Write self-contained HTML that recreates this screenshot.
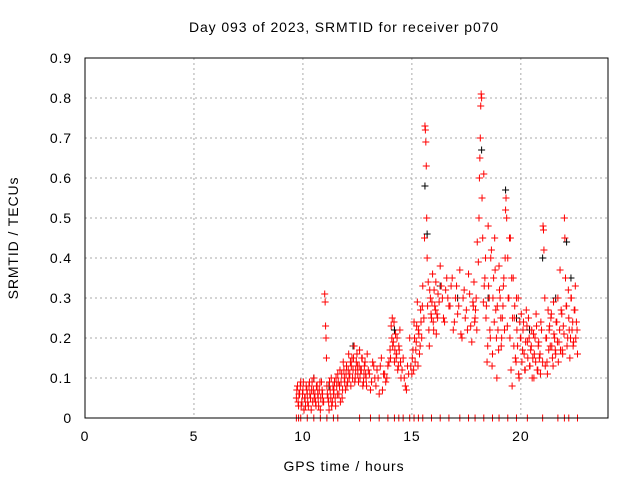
<!DOCTYPE html>
<html><head><meta charset="utf-8"><style>
body{margin:0;background:#fff}
svg text{font-family:"Liberation Sans",sans-serif;font-size:14px;letter-spacing:0.9px;fill:#000}
</style></head><body>
<svg id="chart" width="640" height="480">
<text x="344" y="32" text-anchor="middle">Day 093 of 2023, SRMTID for receiver p070</text>
<text x="344" y="471" text-anchor="middle">GPS time / hours</text>
<text transform="translate(18,238) rotate(-90)" text-anchor="middle">SRMTID / TECUs</text>
<g id="grid"></g><g id="axes"></g><g id="pts"></g>
<rect x="85" y="58" width="523" height="360" fill="none" stroke="#000"/>
</svg>
<script>
const xTicks=[0,5,10,15,20];
const yTicks=[0,0.1,0.2,0.3,0.4,0.5,0.6,0.7,0.8,0.9];
const redT=[9.7,9.75,9.8,9.85,9.9,9.95,10,10.05,10.1,10.15,10.2,10.25,10.3,10.35,10.4,10.45,10.5,10.55,10.6,10.65,10.7,10.75,10.8,10.85,10.9,10.95,11,11.02,11.04,11.06,11.08,11.1,11.15,11.2,11.25,11.3,11.35,11.4,11.45,11.5,11.55,11.6,11.65,11.7,11.75,11.8,11.85,11.9,11.95,12,12.05,12.1,12.15,12.2,12.25,12.3,12.35,12.4,12.45,12.5,12.55,12.6,12.65,12.7,12.75,12.8,12.85,12.9,12.95,13,13.1,13.2,13.3,13.4,13.5,13.6,13.7,13.8,13.9,14,14.05,14.1,14.15,14.2,14.25,14.3,14.35,14.4,14.45,14.5,14.6,14.7,14.8,14.9,15,15.05,15.1,15.15,15.2,15.25,15.3,15.35,15.4,15.45,15.5,15.55,15.58,15.6,15.62,15.64,15.66,15.68,15.7,15.75,15.8,15.85,15.9,15.95,16,16.05,16.1,16.15,16.2,16.3,16.4,16.5,16.6,16.7,16.8,16.9,17,17.1,17.2,17.3,17.4,17.5,17.6,17.7,17.8,17.85,17.9,17.95,18,18.05,18.08,18.1,18.12,18.14,18.16,18.18,18.2,18.22,18.25,18.3,18.35,18.4,18.45,18.5,18.55,18.6,18.65,18.7,18.75,18.8,18.85,18.9,18.95,19,19.05,19.1,19.15,19.2,19.25,19.28,19.3,19.32,19.35,19.4,19.45,19.5,19.55,19.6,19.65,19.7,19.75,19.8,19.85,19.9,19.95,20,20.05,20.1,20.15,20.2,20.25,20.3,20.35,20.4,20.45,20.5,20.55,20.6,20.65,20.7,20.75,20.8,20.85,20.9,20.95,21,21.02,21.04,21.06,21.1,21.15,21.2,21.25,21.3,21.35,21.4,21.45,21.5,21.55,21.6,21.65,21.7,21.75,21.8,21.85,21.9,21.95,22,22.02,22.05,22.1,22.15,22.2,22.25,22.3,22.35,22.4,22.45,22.5,22.55,22.6];
const redV=[0.05,0.08,0.03,0.06,0.09,0.04,0.07,0.02,0.05,0.08,0.06,0.03,0.09,0.05,0.07,0.04,0.1,0.06,0.03,0.08,0.05,0.07,0.02,0.09,0.06,0.04,0.31,0.29,0.23,0.2,0.15,0.08,0.05,0.02,0.07,0.1,0.04,0.06,0.09,0.03,0.08,0.11,0.06,0.12,0.09,0.05,0.14,0.1,0.07,0.13,0.09,0.16,0.11,0.08,0.15,0.12,0.18,0.1,0.14,0.13,0.09,0.17,0.12,0.15,0.08,0.11,0.14,0.1,0.16,0.12,0.07,0.14,0.1,0.12,0.06,0.15,0.11,0.09,0.13,0.17,0.23,0.25,0.19,0.14,0.21,0.16,0.12,0.18,0.22,0.1,0.15,0.08,0.13,0.2,0.11,0.17,0.24,0.14,0.19,0.29,0.22,0.16,0.27,0.2,0.33,0.25,0.45,0.73,0.72,0.69,0.63,0.5,0.4,0.34,0.18,0.3,0.25,0.36,0.22,0.28,0.34,0.26,0.31,0.38,0.3,0.24,0.35,0.28,0.33,0.22,0.3,0.26,0.37,0.2,0.32,0.27,0.36,0.23,0.29,0.34,0.25,0.3,0.44,0.39,0.5,0.6,0.65,0.7,0.78,0.81,0.8,0.55,0.45,0.61,0.35,0.25,0.14,0.48,0.3,0.2,0.42,0.16,0.35,0.45,0.27,0.1,0.22,0.38,0.3,0.18,0.25,0.33,0.22,0.4,0.52,0.55,0.5,0.4,0.3,0.2,0.12,0.08,0.35,0.25,0.15,0.3,0.18,0.11,0.24,0.2,0.14,0.22,0.16,0.12,0.27,0.19,0.25,0.13,0.17,0.22,0.15,0.1,0.2,0.26,0.12,0.18,0.15,0.11,0.22,0.14,0.48,0.47,0.42,0.3,0.2,0.14,0.27,0.22,0.18,0.26,0.15,0.29,0.2,0.16,0.24,0.3,0.19,0.37,0.27,0.17,0.23,0.5,0.45,0.35,0.28,0.2,0.25,0.15,0.3,0.22,0.18,0.27,0.33,0.24,0.16];
const redT2=[9.72,9.78,9.82,9.88,9.92,9.98,10.02,10.08,10.12,10.18,10.22,10.28,10.32,10.38,10.42,10.48,10.52,10.58,10.62,10.68,10.72,10.78,10.82,10.88,10.92,11.12,11.18,11.22,11.28,11.32,11.38,11.42,11.48,11.52,11.58,11.62,11.68,11.72,11.78,11.82,11.88,11.92,11.98,12.02,12.08,12.12,12.18,12.22,12.28,12.32,12.38,12.42,12.48,12.52,12.58,12.62,12.68,12.72,12.78,12.82,12.88,12.92,13.05,13.15,13.25,13.35,13.45,13.55,13.65,13.75,13.85,13.95,14.02,14.08,14.12,14.18,14.22,14.28,14.32,14.38,14.42,14.48,14.55,14.65,14.75,14.85,14.95,15.02,15.08,15.12,15.18,15.22,15.28,15.32,15.38,15.42,15.48,15.72,15.78,15.82,15.88,15.92,15.98,16.02,16.08,16.12,16.18,16.25,16.35,16.45,16.55,16.65,16.75,16.85,16.95,17.05,17.15,17.25,17.35,17.45,17.55,17.65,17.75,17.82,17.88,17.92,17.98,18.28,18.32,18.38,18.42,18.48,18.52,18.58,18.62,18.68,18.72,18.78,18.82,18.88,18.92,18.98,19.02,19.08,19.12,19.18,19.22,19.38,19.42,19.48,19.52,19.58,19.62,19.68,19.72,19.78,19.82,19.88,19.92,19.98,20.02,20.08,20.12,20.18,20.22,20.28,20.32,20.38,20.42,20.48,20.52,20.58,20.62,20.68,20.72,20.78,20.82,20.88,20.92,21.12,21.18,21.22,21.28,21.32,21.38,21.42,21.48,21.52,21.58,21.62,21.68,21.72,21.78,21.82,21.88,21.92,21.98,22.08,22.12,22.18,22.22,22.28,22.32,22.38,22.42,22.48,22.52,22.58];
const redV2=[0.07,0.04,0.06,0.08,0.03,0.06,0.09,0.05,0.03,0.07,0.04,0.08,0.06,0.02,0.09,0.07,0.05,0.04,0.08,0.06,0.03,0.09,0.05,0.07,0.04,0.06,0.04,0.09,0.05,0.03,0.08,0.07,0.05,0.1,0.06,0.09,0.08,0.04,0.11,0.07,0.12,0.09,0.11,0.08,0.12,0.1,0.14,0.13,0.1,0.15,0.09,0.12,0.16,0.11,0.13,0.1,0.12,0.15,0.09,0.13,0.11,0.08,0.11,0.09,0.13,0.08,0.1,0.13,0.07,0.11,0.1,0.14,0.15,0.2,0.18,0.24,0.17,0.15,0.2,0.13,0.17,0.14,0.12,0.1,0.07,0.11,0.13,0.15,0.12,0.2,0.17,0.23,0.13,0.21,0.18,0.24,0.28,0.28,0.22,0.32,0.26,0.29,0.24,0.32,0.27,0.21,0.25,0.29,0.33,0.25,0.32,0.3,0.28,0.35,0.24,0.33,0.28,0.21,0.3,0.25,0.22,0.31,0.19,0.28,0.24,0.27,0.22,0.29,0.33,0.4,0.28,0.18,0.33,0.22,0.4,0.13,0.3,0.24,0.37,0.2,0.28,0.17,0.32,0.25,0.2,0.28,0.35,0.23,0.3,0.45,0.45,0.35,0.25,0.18,0.28,0.14,0.22,0.3,0.1,0.2,0.26,0.17,0.24,0.12,0.19,0.23,0.15,0.2,0.13,0.18,0.1,0.21,0.16,0.14,0.23,0.12,0.19,0.16,0.24,0.13,0.2,0.11,0.17,0.23,0.25,0.18,0.13,0.21,0.17,0.24,0.19,0.14,0.22,0.17,0.26,0.16,0.21,0.28,0.18,0.32,0.22,0.2,0.3,0.24,0.19,0.27,0.2,0.22,0.29,0.18,0.25,0.31,0.21,0.26];
const blackT=[10.5,11.2,12.3,14.2,15.6,15.7,16.3,17.1,18.2,18.5,19.3,19.8,20.4,21.0,21.6,22.1,22.3];
const blackV=[0.1,0.08,0.18,0.22,0.58,0.46,0.33,0.3,0.67,0.3,0.57,0.25,0.22,0.4,0.3,0.44,0.35];
const zeroT=[9.7,9.8,9.9,10.2,10.5,10.8,11.1,11.4,11.6,12.6,13.1,13.5,13.9,14.2,14.4,14.6,14.9,15.1,15.3,15.5,15.9,16.3,16.7,17.2,17.6,17.9,18.3,18.7,19,19.4,19.8,20.3,21,21.7,22,22.2,22.6];
const X=t=>85+t*(523/24), Y=v=>418-v*400;
const NS='http://www.w3.org/2000/svg';
const g=document.getElementById('grid'), ax=document.getElementById('axes'), pg=document.getElementById('pts');
function mk(tag,at,par){const e=document.createElementNS(NS,tag);for(const k in at)e.setAttribute(k,at[k]);par.appendChild(e);return e;}
xTicks.forEach(t=>{
 const l=mk('line',{x1:X(t),x2:X(t),y1:58,y2:418,stroke:'#aaa','stroke-dasharray':'2,3'},g);
 
 
 const tx=mk('text',{x:X(t),y:441,'text-anchor':'middle'},ax);tx.textContent=t;
 
 
});
yTicks.forEach(v=>{
 const l=mk('line',{x1:85,x2:608,y1:Y(v),y2:Y(v),stroke:'#aaa','stroke-dasharray':'2,3'},g);
 
 
 const tx=mk('text',{x:72,y:Y(v)+5,'text-anchor':'end'},ax);tx.textContent=v===0?'0':v.toFixed(1);
 
 
});
function plus(t,v,c,name){
 const p=mk('path',{d:`M${X(t)-3.5},${Y(v)}h7M${X(t)},${Y(v)-3.5}v7`,stroke:c,'stroke-width':1},pg);
 
 
}
blackT.forEach((t,i)=>plus(t,blackV[i],'#000','black-point'));
redT.forEach((t,i)=>plus(t,redV[i],'#f00','red-point'));
redT2.forEach((t,i)=>plus(t,redV2[i],'#f00','red-point'));
zeroT.forEach(t=>plus(t,0,'#f00','zero-point'));
</script>
</body></html>
